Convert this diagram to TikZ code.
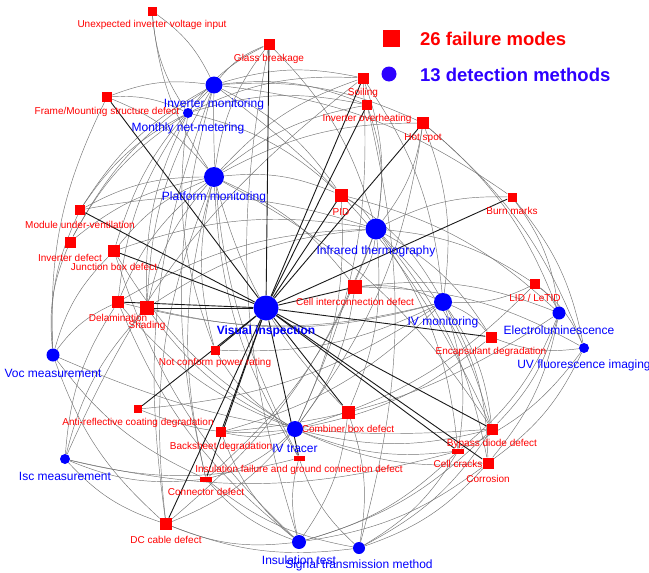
\documentclass[tikz,border=0pt]{standalone}
\usepackage{fontspec}
\setmainfont{Liberation Sans}
\usetikzlibrary{backgrounds,calc}

\definecolor{keyblue}{RGB}{45,0,255}
\tikzset{
  fmode/.style={fill=red, inner sep=0pt},
  dmeth/.style={circle, fill=blue, inner sep=0pt},
  flab/.style={text=red, font=\fontsize{10}{12}\selectfont, inner sep=0pt},
  dlab/.style={text=blue, font=\fontsize{12}{14}\selectfont, inner sep=0pt},
  link/.style={black!55, line width=0.45pt},
  vlink/.style={black!90, line width=0.9pt}
}

\begin{document}
\begin{tikzpicture}[x=1pt,y=-1pt]
    \useasboundingbox (0,0) rectangle (649,573);
    % failure modes
    \foreach \n/\x/\y/\w/\h/\dy/\lab in {
      uivi/152/11/9/9/14/{Unexpected inverter voltage input},
      glass/269/44/11/11/15/{Glass breakage},
      frame/107/97/10/10/15/{Frame/Mounting structure defect},
      soil/363/78/11/11/15/{Soiling},
      iover/367/105/10/10/14/{Inverter overheating},
      hot/423/123/12/12/15/{Hot spot},
      pid/341/195/13/13/17/{PID},
      burn/512/197/9/9/14/{Burn marks},
      modvent/80/210/10/10/15/{Module under-ventilation},
      invdef/70/242/11/11/16/{Inverter defect},
      jbox/114/251/12/12/16/{Junction box defect},
      cellint/355/287/14/14/15/{Cell interconnection defect},
      lid/535/284/10/10/14/{LID / LeTID},
      delam/118/302/12/12/16/{Delamination},
      shading/147/308/14/14/18/{Shading},
      encaps/491/337/11/11/15/{Encapsulant degradation},
      notconf/215/350/9/9/13/{Not conform power rating},
      arcoat/138/409/8/8/14/{Anti-reflective coating degradation},
      backsh/221/432/10/10/15/{Backsheet degradation},
      combiner/348/412/13/13/17/{Combiner box defect},
      bypass/492/429/11/11/15/{Bypass diode defect},
      cracks/458/451/12/5/13/{Cell cracks},
      corros/488/463/11/11/16/{Corrosion},
      insul/299/458/11/5/12/{Insulation failure and ground connection defect},
      conn/206/479/12/5/13/{Connector defect},
      dccable/166/524/12/12/16/{DC cable defect}}
    {
      \node[fmode, minimum width=\w pt, minimum height=\h pt] (\n) at (\x,\y) {};
      \node[flab] (l\n) at (\x,\y+\dy) {\lab};
    }
    % detection methods
    \foreach \n/\x/\y/\s/\dy/\lab in {
      invmon/214/85/17/19/{Inverter monitoring},
      netmet/188/113/10/15/{Monthly net-metering},
      platmon/214/177/20/20/{Platform monitoring},
      ir/376/229/21/22/{Infrared thermography},
      vi/266/308/25/23/{\textbf{Visual inspection}},
      ivmon/443/302/18/20/{IV monitoring},
      el/559/313/13/17/{Electroluminescence},
      uvf/584/348/10/17/{UV fluorescence imaging},
      voc/53/355/13/18/{Voc measurement},
      isc/65/459/10/17/{Isc measurement},
      ivt/295/429/16/19/{IV tracer},
      instest/299/542/14/18/{Insulation test},
      sigtx/359/548/12/17/{Signal transmission method}}
    {
      \node[dmeth, minimum size=\s pt] (\n) at (\x,\y) {};
      \node[dlab] (l\n) at (\x,\y+\dy) {\lab};
    }
    % links, bent away from the middle
    \begin{scope}[on background layer]
      \foreach \d/\fl in {
        invmon/{uivi,glass,frame,soil,iover,hot,modvent,invdef,shading,pid,jbox,dccable,conn,insul,bypass,burn},
        netmet/{uivi,frame,soil,iover,invdef,modvent,shading,delam,pid,notconf,glass},
        platmon/{uivi,glass,frame,soil,iover,hot,invdef,modvent,jbox,shading,delam,pid,notconf,bypass,conn,dccable,insul,combiner,cellint},
        ir/{glass,soil,iover,hot,pid,burn,modvent,jbox,cellint,lid,delam,shading,encaps,combiner,bypass,cracks,corros,conn,dccable},
        ivmon/{soil,hot,pid,lid,cellint,shading,encaps,notconf,arcoat,backsh,bypass,cracks,corros,delam},
        el/{pid,burn,lid,cellint,bypass,cracks,corros,hot,backsh},
        uvf/{burn,lid,cellint,encaps,cracks,corros,hot},
        voc/{frame,modvent,invdef,jbox,delam,bypass,dccable,conn},
        isc/{soil,shading,delam,cracks,conn,dccable,insul},
        ivt/{soil,shading,delam,jbox,pid,hot,cellint,lid,encaps,notconf,arcoat,backsh,bypass,cracks,corros,conn,dccable},
        instest/{glass,jbox,delam,backsh,combiner,insul,conn,dccable,corros,bypass,cracks},
        sigtx/{iover,combiner,bypass,cracks,corros,insul,conn,dccable}}
        \foreach \f in \fl
          \draw[link] let \p1=(\d), \p2=(\f),
            \n1={14*sign(((\x2-\x1)/100)*(((\y1+\y2)/2+300)/100)-((\y2-\y1)/100)*(((\x1+\x2)/2-305)/100))}
            in (\d) to[bend left=\n1] (\f);
      \foreach \f in {glass,frame,soil,iover,hot,pid,burn,modvent,jbox,delam,shading,notconf,arcoat,backsh,dccable,conn,combiner,cracks,corros,encaps,cellint,insul,bypass}
        \draw[vlink] (vi) -- (\f);
    \end{scope}
    % key
    \node[fmode, minimum size=17pt] (keyfm) at (391,38) {};
    \node[anchor=west, text=red, font=\fontsize{18.5}{20}\selectfont\bfseries, inner sep=0pt] (keyfmtext) at (420,39) {26 failure modes};
    \node[dmeth, fill=keyblue, minimum size=15pt] (keydm) at (389,74) {};
    \node[anchor=west, text=keyblue, font=\fontsize{18.5}{20}\selectfont\bfseries, inner sep=0pt] (keydmtext) at (420,75) {13 detection methods};
\end{tikzpicture}
\end{document}
